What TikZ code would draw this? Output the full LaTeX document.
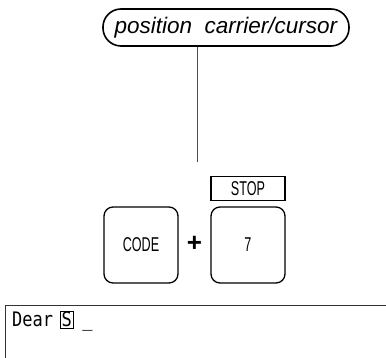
\documentclass[tikz,border=0pt]{standalone}
\usepackage{fontspec}
\setmainfont{Liberation Sans}
\newfontfamily\condfont[FakeStretch=0.63]{Liberation Sans}
\newfontfamily\typefont[FakeStretch=0.85]{DejaVu Sans Mono}
\usetikzlibrary{positioning}
\begin{document}
\begin{tikzpicture}[x=1pt, y=-1pt,
    pill/.style={draw, line width=1.6pt, rounded corners=18pt, minimum width=246pt,
                 minimum height=37pt, font=\fontsize{22.5}{24}\selectfont\itshape},
    keycap/.style={draw, line width=1.3pt, rounded corners=9pt, minimum width=74pt,
                   minimum height=76pt, font=\condfont\fontsize{20}{22}\selectfont},
    legend/.style={draw, line width=1.3pt, minimum width=74pt, minimum height=24pt,
                   font=\condfont\fontsize{20}{22}\selectfont},
    screen/.style={font=\typefont\fontsize{20}{22}\selectfont, inner sep=0pt},
    lead/.style={draw=black!70, line width=0.6pt}
]
\useasboundingbox (0,0) rectangle (386,358);

\node[pill] (action) at (226,27.5) {position\ \ carrier/cursor};
\coordinate (leadend) at (197,162);
\draw[lead] (leadend |- action.south) -- (leadend);

\node[keycap] (code)  at (141,245) {CODE};
\node[keycap] (seven) at (248,245) {7};
\node[legend] (stop)  at (248,188.5) {STOP};
\node[font=\bfseries\fontsize{26}{28}\selectfont] (plus) at (194.5,244) {+};

% screen display
\draw[line width=0.7pt, black!80] (5,358) -- (5,305) -- (386,305);
\node[screen, anchor=base west] (dear) at (12,327) {Dear};
\node[screen, draw, line width=0.7pt, inner sep=1pt, right=7pt of dear.base east, anchor=base west] (cursor) {S};
\node[screen, right=9pt of cursor.base east, anchor=base west] (uline) {\_};
\end{tikzpicture}
\end{document}
